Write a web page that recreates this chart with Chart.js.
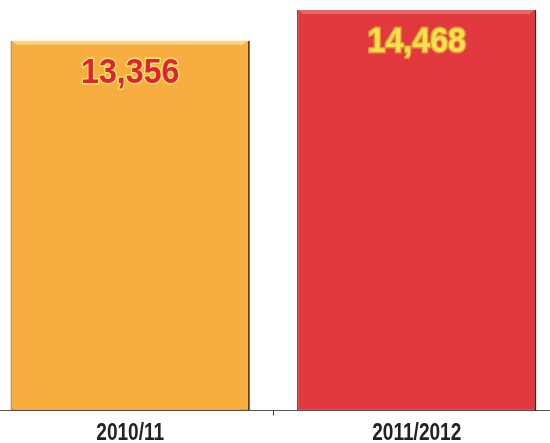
<!DOCTYPE html>
<html>
<head>
<meta charset="utf-8">
<script src="https://cdn.jsdelivr.net/npm/chart.js@4/dist/chart.umd.min.js"></script>
<style>
  html, body { margin: 0; padding: 0; background: #ffffff; overflow: hidden; }
  #wrap { position: absolute; left: -13px; top: 0; width: 573px; height: 443px; }
</style>
</head>
<body>
<div id="wrap"><canvas id="c" width="573" height="443"></canvas></div>
<script>
// Academic years and totals
const years = ['2010/11', '2011/2012'];
const totals = [13356, 14468];

// Appearance
const barFill = ['#f7ad3f', '#e2393f'];
const barEdge = ['#6a3a12', '#5a1418'];
const bevel = ['rgba(255,226,150,0.75)', 'rgba(245,120,120,0.7)'];
const valueFill = ['#e3203a', '#f8e24a'];
const valueStroke = ['#f6e860', '#e8923a'];
const FONT = '"Liberation Sans", Arial, sans-serif';

// Bold text squeezed horizontally to a condensed look
function condensedText(ctx, txt, x, y, size, squeeze, fill, stroke) {
  ctx.save();
  ctx.translate(x, y);
  ctx.scale(squeeze, 1);
  ctx.font = 'bold ' + size + 'px ' + FONT;
  ctx.textAlign = 'center';
  ctx.textBaseline = 'alphabetic';
  if (stroke) {
    ctx.lineJoin = 'round';
    ctx.lineWidth = 3;
    ctx.strokeStyle = stroke;
    ctx.strokeText(txt, 0, 0);
  }
  ctx.fillStyle = fill;
  ctx.fillText(txt, 0, 0);
  ctx.restore();
}

const decorations = {
  id: 'decorations',
  afterDatasetsDraw(chart) {
    const ctx = chart.ctx;
    const meta = chart.getDatasetMeta(0);
    meta.data.forEach((bar, i) => {
      const left = bar.x - bar.width / 2;
      // light bevel along the top edge
      ctx.save();
      ctx.fillStyle = bevel[i];
      ctx.beginPath();
      ctx.moveTo(left + 1, bar.y);
      ctx.lineTo(left + bar.width - 2, bar.y);
      ctx.lineTo(left + bar.width - 7, bar.y + 4);
      ctx.lineTo(left + 6, bar.y + 4);
      ctx.closePath();
      ctx.fill();
      ctx.restore();

      // value text
      condensedText(ctx, totals[i].toLocaleString('en-US'), bar.x, bar.y + 42, 35, 0.92, valueFill[i], valueStroke[i]);
    });
  },
  afterDraw(chart) {
    // category labels under the axis, placed by the x scale
    const xs = chart.scales.x;
    const ctx = chart.ctx;
    xs.ticks.forEach((t, i) => {
      condensedText(ctx, xs.getLabelForValue(t.value), xs.getPixelForTick(i), chart.chartArea.bottom + 30, 23, 0.83, '#222222', null);
    });
  }
};

new Chart(document.getElementById('c'), {
  type: 'bar',
  data: {
    labels: years,
    datasets: [{
      data: totals,
      backgroundColor: barFill,
      borderColor: barEdge,
      borderWidth: { left: 1, right: 2, top: 0, bottom: 1 },
      borderSkipped: false,
      barPercentage: 0.835,
      categoryPercentage: 1.0
    }]
  },
  options: {
    responsive: false,
    animation: false,
    events: [],
    layout: { padding: 0 },
    plugins: { legend: { display: false }, tooltip: { enabled: false } },
    scales: {
      y: { display: false, min: 0, max: 14830 },
      x: {
        offset: true,
        border: { display: true, color: '#555555', width: 1 },
        grid: { display: true, drawOnChartArea: false, drawTicks: true, tickLength: 5, color: '#333333', offset: true },
        ticks: {
          color: 'rgba(0,0,0,0)',
          padding: 0,
          font: { family: FONT, size: 23, weight: 'bold' }
        }
      }
    }
  },
  plugins: [decorations]
});
</script>
</body>
</html>
